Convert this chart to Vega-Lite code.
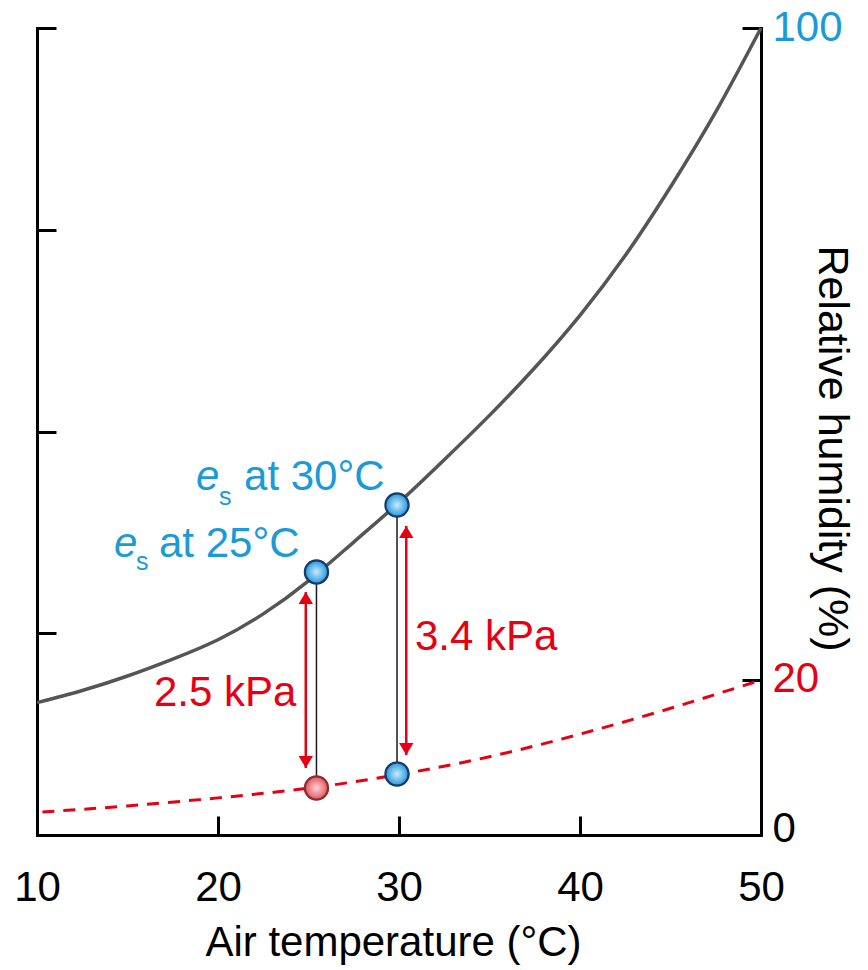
{
  "$schema": "https://vega.github.io/schema/vega-lite/v6.json",
  "width": 724,
  "height": 807,
  "autosize": "none",
  "padding": {"left": 37, "top": 28, "right": 107, "bottom": 135},
  "background": "white",
  "config": {
    "view": {"stroke": null},
    "font": "Liberation Sans",
    "axis": {"grid": false, "domainColor": "black", "domainWidth": 3, "domainCap": "square", "tickColor": "black", "tickWidth": 3, "labelColor": "black", "titleColor": "black", "titleFontWeight": "normal"}
  },
  "datasets": {
    "solid": [
      {"T": 10, "v": 16.4}, {"T": 12.5, "v": 17.9}, {"T": 15, "v": 19.7}, {"T": 17.5, "v": 21.8},
      {"T": 20, "v": 24.2}, {"T": 22.5, "v": 27.4}, {"T": 25, "v": 31.5}, {"T": 27.5, "v": 36.3},
      {"T": 30, "v": 41.2}, {"T": 32.5, "v": 46.5}, {"T": 35, "v": 52.0}, {"T": 37.5, "v": 57.9},
      {"T": 40, "v": 64.4}, {"T": 42.5, "v": 71.8}, {"T": 45, "v": 80.3}, {"T": 47.5, "v": 89.6},
      {"T": 50, "v": 100}
    ],
    "dashed": [
      {"T": 10.3, "v": 2.85}, {"T": 15, "v": 3.6}, {"T": 20, "v": 4.6}, {"T": 25, "v": 5.8},
      {"T": 30, "v": 7.5}, {"T": 35, "v": 9.7}, {"T": 40, "v": 12.5}, {"T": 45, "v": 15.7},
      {"T": 50, "v": 19.2}
    ],
    "points": [
      {"T": 25.44, "v": 32.6, "kind": "es"},
      {"T": 29.89, "v": 40.9, "kind": "es"},
      {"T": 25.44, "v": 5.82, "kind": "ea25"},
      {"T": 29.89, "v": 7.56, "kind": "ea30"}
    ],
    "connectors": [
      {"T": 25.44, "v1": 5.82, "v2": 32.6},
      {"T": 29.89, "v1": 7.56, "v2": 40.9}
    ],
    "arrows": [
      {"T": 24.85, "bottom": 8.3, "top": 30.1},
      {"T": 30.4, "bottom": 9.9, "top": 38.3}
    ],
    "eLabels": [
      {"T": 18.78, "v": 42.75, "t": "e"},
      {"T": 14.25, "v": 34.44, "t": "e"}
    ],
    "sLabels": [
      {"T": 20.06, "v": 40.89, "t": "s"},
      {"T": 15.47, "v": 32.84, "t": "s"}
    ],
    "atLabels": [
      {"T": 21.44, "v": 42.75, "t": "at 30°C"},
      {"T": 16.74, "v": 34.44, "t": "at 25°C"}
    ],
    "kpaLabels": [
      {"T": 30.88, "v": 22.92, "t": "3.4 kPa"},
      {"T": 16.46, "v": 15.99, "t": "2.5 kPa"}
    ]
  },
  "encoding": {
    "x": {
      "field": "T", "type": "quantitative",
      "scale": {"domain": [10, 50], "nice": false, "zero": false},
      "axis": {
        "values": [10, 20, 30, 40, 50],
        "tickSize": -19,
        "labelFontSize": 42,
        "labelBaseline": "alphabetic",
        "labelPadding": 84,
        "labelFlush": false,
        "title": "Air temperature (°C)",
        "titleFontSize": 42,
        "titleBaseline": "alphabetic",
        "titleY": 120,
        "titleX": 356
      }
    }
  },
  "layer": [
    {
      "data": {"name": "connectors"},
      "mark": {"type": "rule", "color": "#1a1a1a", "strokeWidth": 1.5},
      "encoding": {
        "y": {"field": "v1", "type": "quantitative", "scale": {"domain": [0, 100], "nice": false}, "axis": null},
        "y2": {"field": "v2"}
      }
    },
    {
      "data": {"name": "arrows"},
      "mark": {"type": "rule", "color": "#e60012", "strokeWidth": 2.5},
      "encoding": {
        "y": {"field": "bottom", "type": "quantitative", "scale": {"domain": [0, 100], "nice": false}, "axis": null},
        "y2": {"field": "top"}
      }
    },
    {
      "data": {"name": "arrows"},
      "mark": {"type": "point", "shape": "M0,0 L-0.6,1 L0.6,1 Z", "size": 576, "filled": true, "color": "#e60012", "opacity": 1},
      "encoding": {
        "y": {"field": "top", "type": "quantitative", "scale": {"domain": [0, 100], "nice": false}, "axis": null}
      }
    },
    {
      "data": {"name": "arrows"},
      "mark": {"type": "point", "shape": "M0,0 L-0.6,-1 L0.6,-1 Z", "size": 576, "filled": true, "color": "#e60012", "opacity": 1},
      "encoding": {
        "y": {"field": "bottom", "type": "quantitative", "scale": {"domain": [0, 100], "nice": false}, "axis": null}
      }
    },
    {
      "data": {"name": "solid"},
      "mark": {"type": "line", "color": "#555555", "strokeWidth": 3.5, "interpolate": "natural"},
      "encoding": {
        "y": {
          "field": "v", "type": "quantitative", "scale": {"domain": [0, 100], "nice": false},
          "axis": {"orient": "left", "values": [0, 25, 50, 75, 100], "labels": false, "tickSize": -19, "title": null}
        }
      }
    },
    {
      "data": {"name": "dashed"},
      "mark": {"type": "line", "color": "#e60012", "strokeWidth": 3, "strokeDash": [12, 9], "interpolate": "natural"},
      "encoding": {
        "y": {
          "field": "v", "type": "quantitative", "scale": {"domain": [0, 100], "nice": false},
          "axis": {
            "orient": "right", "values": [0, 19.2, 100], "tickSize": -19,
            "labelExpr": "datum.value > 19 && datum.value < 20 ? '20' : datum.label",
            "labelFontSize": 42, "labelAlign": "left", "labelBaseline": "middle", "labelPadding": 30, "labelFlush": false,
            "labelColor": {"expr": "datum.value == 100 ? '#1a9bd7' : (datum.value > 19 && datum.value < 20 ? '#e60012' : 'black')"},
            "labelOffset": {"expr": "datum.value == 0 ? -7 : (datum.value == 100 ? -1 : -2)"},
            "title": "Relative humidity (%)",
            "titleFontSize": 43, "titleAngle": 90, "titleAlign": "center", "titleBaseline": "alphabetic",
            "titleX": 57, "titleY": 420
          }
        }
      }
    },
    {
      "data": {"name": "points"},
      "transform": [{"filter": "datum.kind != 'ea25'"}],
      "mark": {
        "type": "point", "shape": "circle", "size": 540, "filled": true, "opacity": 1,
        "fill": {"gradient": "radial", "x1": 0.5, "y1": 0.5, "x2": 0.5, "y2": 0.5, "r1": 0, "r2": 0.55,
                 "stops": [{"offset": 0, "color": "#c9ebfc"}, {"offset": 0.7, "color": "#49abe2"}, {"offset": 1, "color": "#1f8fd3"}]},
        "stroke": "#163a6b", "strokeWidth": 2.2
      },
      "encoding": {
        "y": {"field": "v", "type": "quantitative", "scale": {"domain": [0, 100], "nice": false}, "axis": null}
      }
    },
    {
      "data": {"name": "points"},
      "transform": [{"filter": "datum.kind == 'ea25'"}],
      "mark": {
        "type": "point", "shape": "circle", "size": 540, "filled": true, "opacity": 1,
        "fill": {"gradient": "radial", "x1": 0.5, "y1": 0.5, "x2": 0.5, "y2": 0.5, "r1": 0, "r2": 0.55,
                 "stops": [{"offset": 0, "color": "#fbd3d6"}, {"offset": 0.7, "color": "#e8747c"}, {"offset": 1, "color": "#d9464f"}]},
        "stroke": "#8f2c2c", "strokeWidth": 2.2
      },
      "encoding": {
        "y": {"field": "v", "type": "quantitative", "scale": {"domain": [0, 100], "nice": false}, "axis": null}
      }
    },
    {
      "data": {"name": "eLabels"},
      "mark": {"type": "text", "fontSize": 42, "fontStyle": "italic", "color": "#1a9bd7", "align": "left", "baseline": "alphabetic"},
      "encoding": {
        "y": {"field": "v", "type": "quantitative", "scale": {"domain": [0, 100], "nice": false}, "axis": null},
        "text": {"field": "t"}
      }
    },
    {
      "data": {"name": "sLabels"},
      "mark": {"type": "text", "fontSize": 25, "color": "#1a9bd7", "align": "left", "baseline": "alphabetic"},
      "encoding": {
        "y": {"field": "v", "type": "quantitative", "scale": {"domain": [0, 100], "nice": false}, "axis": null},
        "text": {"field": "t"}
      }
    },
    {
      "data": {"name": "atLabels"},
      "mark": {"type": "text", "fontSize": 42, "color": "#1a9bd7", "align": "left", "baseline": "alphabetic"},
      "encoding": {
        "y": {"field": "v", "type": "quantitative", "scale": {"domain": [0, 100], "nice": false}, "axis": null},
        "text": {"field": "t"}
      }
    },
    {
      "data": {"name": "kpaLabels"},
      "mark": {"type": "text", "fontSize": 42, "color": "#e60012", "align": "left", "baseline": "alphabetic"},
      "encoding": {
        "y": {"field": "v", "type": "quantitative", "scale": {"domain": [0, 100], "nice": false}, "axis": null},
        "text": {"field": "t"}
      }
    }
  ],
  "resolve": {"axis": {"y": "independent"}}
}
